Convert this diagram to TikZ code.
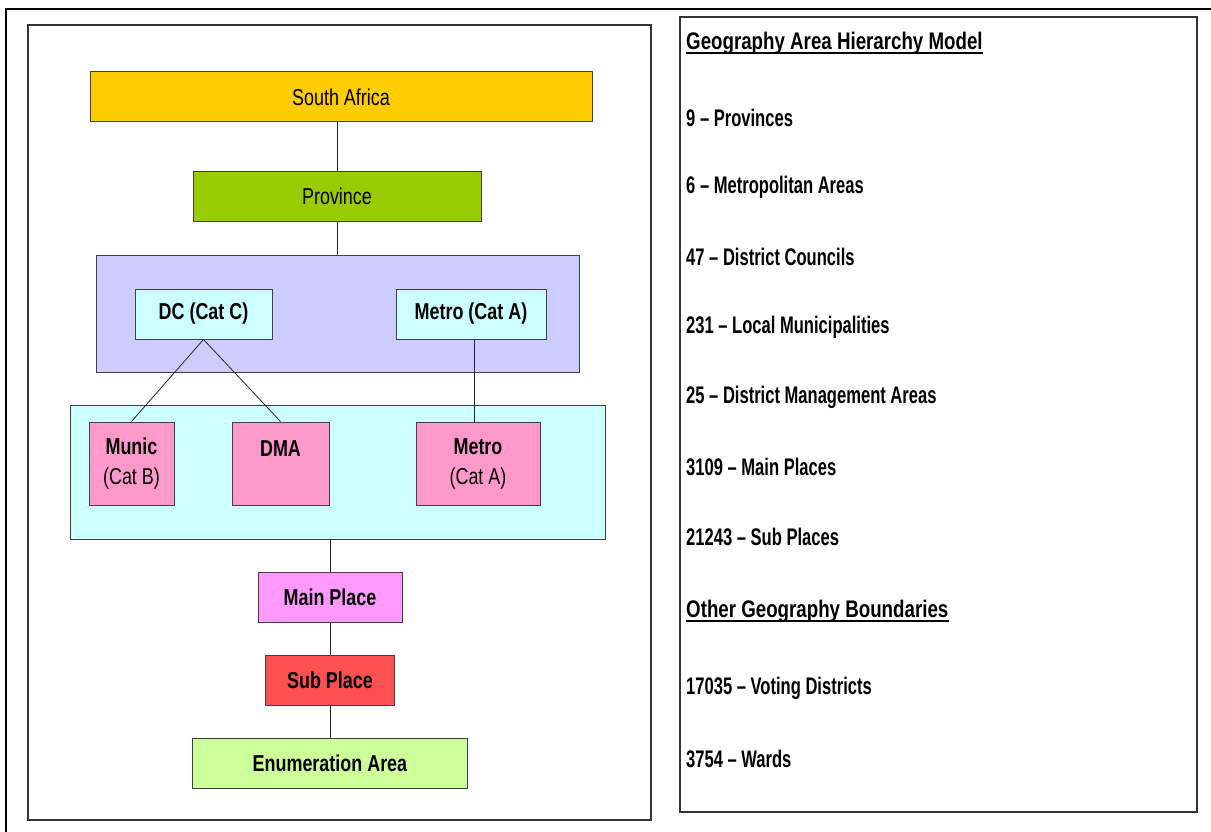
\documentclass[tikz,border=0pt]{standalone}
\usepackage{fontspec}
\setmainfont{Liberation Sans}[FakeStretch=0.78]
\newfontfamily\listfont{Liberation Sans}[FakeStretch=0.69,Ligatures=TeX]
\usetikzlibrary{positioning}
\definecolor{saorange}{HTML}{FFCC00}
\definecolor{provgreen}{HTML}{99CC00}
\definecolor{lavender}{HTML}{CCCCFF}
\definecolor{lightcyan}{HTML}{CCFFFF}
\definecolor{pinkbox}{HTML}{FF99CC}
\definecolor{mainpink}{HTML}{FF99FF}
\definecolor{subred}{HTML}{FF5050}
\definecolor{eagreen}{HTML}{CCFF99}
\tikzset{
    on grid,
    node distance=83pt,
    block/.style = {
        draw=black!75,
        shape=rectangle,
        inner sep=0pt,
        align=center,
        font=\fontsize{23}{30}\selectfont,
        line width=1pt
    },
    group/.style = {
        draw=black!75,
        shape=rectangle,
        inner sep=0pt,
        line width=1pt
    },
    panel/.style = {
        draw=black!80,
        shape=rectangle,
        fill=white,
        inner sep=0pt,
        line width=1.5pt
    },
    heading/.style = {
        anchor=west,
        inner sep=0pt,
        font=\fontsize{24}{28}\selectfont\bfseries
    },
    entry/.style = {
        anchor=west,
        inner sep=0pt,
        font=\fontsize{24}{28}\listfont\bfseries
    },
    link/.style = {
        draw=black!85,
        line width=0.8pt
    },
}

\begin{document}
\begin{tikzpicture}[x=1pt,y=-1pt]
    \useasboundingbox (0,0) rectangle (1211,832);
    \draw[line width=2pt] (6,832) -- (6,9) -- (1211,9);

    % the two panels
    \node[panel, minimum width=623pt, minimum height=795pt] (leftpanel) at (339.5,422.5) {};
    \node[panel, minimum width=517pt, minimum height=795pt] (rightpanel) at (938.5,414.5) {};

    % hierarchy
    \node[block, fill=saorange, minimum width=502pt, minimum height=50pt] (sa) at (341,97) {South Africa};
    \node[block, fill=provgreen, minimum width=288pt, minimum height=49pt] (prov) at (337,196.5) {Province};

    \node[group, fill=lavender, minimum width=483pt, minimum height=117pt] (catgrp) at (337.5,313.5) {};
    \node[block, fill=lightcyan, minimum width=137pt, minimum height=50pt] (dc) at (203.5,314) {\textbf{DC (Cat C)}};
    \node[block, fill=lightcyan, minimum width=150pt, minimum height=50pt] (metroa) at (471,314) {\textbf{Metro (Cat A)}};

    \node[group, fill=lightcyan, minimum width=535pt, minimum height=134pt] (munigrp) at (337.5,472) {};
    \node[block, fill=pinkbox, minimum width=85pt, minimum height=83pt] (munic) at (131.5,463.5) {\textbf{Munic}\\(Cat B)};
    \node[block, fill=pinkbox, minimum width=97pt, minimum height=83pt] (dma) at (280.5,463.5) {\textbf{DMA}\\~};
    \node[block, fill=pinkbox, minimum width=124pt, minimum height=83pt] (metrob) at (478,463.5) {\textbf{Metro}\\(Cat A)};

    \node[block, fill=mainpink, minimum width=144pt, minimum height=50pt] (main) at (330,597) {\textbf{Main Place}};
    \node[block, fill=subred, minimum width=129pt, minimum height=50pt, below of=main] (sub) {\textbf{Sub Place}};
    \node[block, fill=eagreen, minimum width=275pt, minimum height=50pt, below of=sub] (ea) {\textbf{Enumeration Area}};

    \path[link] (prov.north) -- (prov.north |- sa.south);
    \path[link] (prov.south) -- (prov.south |- catgrp.north);
    \path[link] (dc.south) -- (munic.north);
    \path[link] (dc.south) -- (dma.north);
    \path[link] ([xshift=3pt]metroa.south) -- ([xshift=3pt]metroa.south |- metrob.north);
    \path[link] (main.north) -- (main.north |- munigrp.south);
    \path[link] (main.south) -- (sub.north);
    \path[link] (sub.south) -- (ea.north);

    % counts
    \node[heading] (hdmodel) at (686,43) {Geography Area Hierarchy Model};
    \node[entry] (provs) at (686,118) {9 \textendash{} Provinces};
    \node[entry] (metros) at (686,187) {6 \textendash{} Metropolitan Areas};
    \node[entry] (dcs) at (686,257) {47 \textendash{} District Councils};
    \node[entry] (lms) at (686,327) {231 \textendash{} Local Municipalities};
    \node[entry] (dmas) at (686,397) {25 \textendash{} District Management Areas};
    \node[entry] (mps) at (686,467) {3109 \textendash{} Main Places};
    \node[entry] (sps) at (686,537) {21243 \textendash{} Sub Places};
    \node[heading] (hdother) at (686,611) {Other Geography Boundaries};
    \node[entry] (vds) at (686,688) {17035 \textendash{} Voting Districts};
    \node[entry] (wards) at (686,759) {3754 \textendash{} Wards};

    \draw[line width=1.8pt] ([yshift=-4pt]hdmodel.base west) -- ([yshift=-4pt]hdmodel.base east);
    \draw[line width=1.8pt] ([yshift=-4pt]hdother.base west) -- ([yshift=-4pt]hdother.base east);
\end{tikzpicture}
\end{document}
